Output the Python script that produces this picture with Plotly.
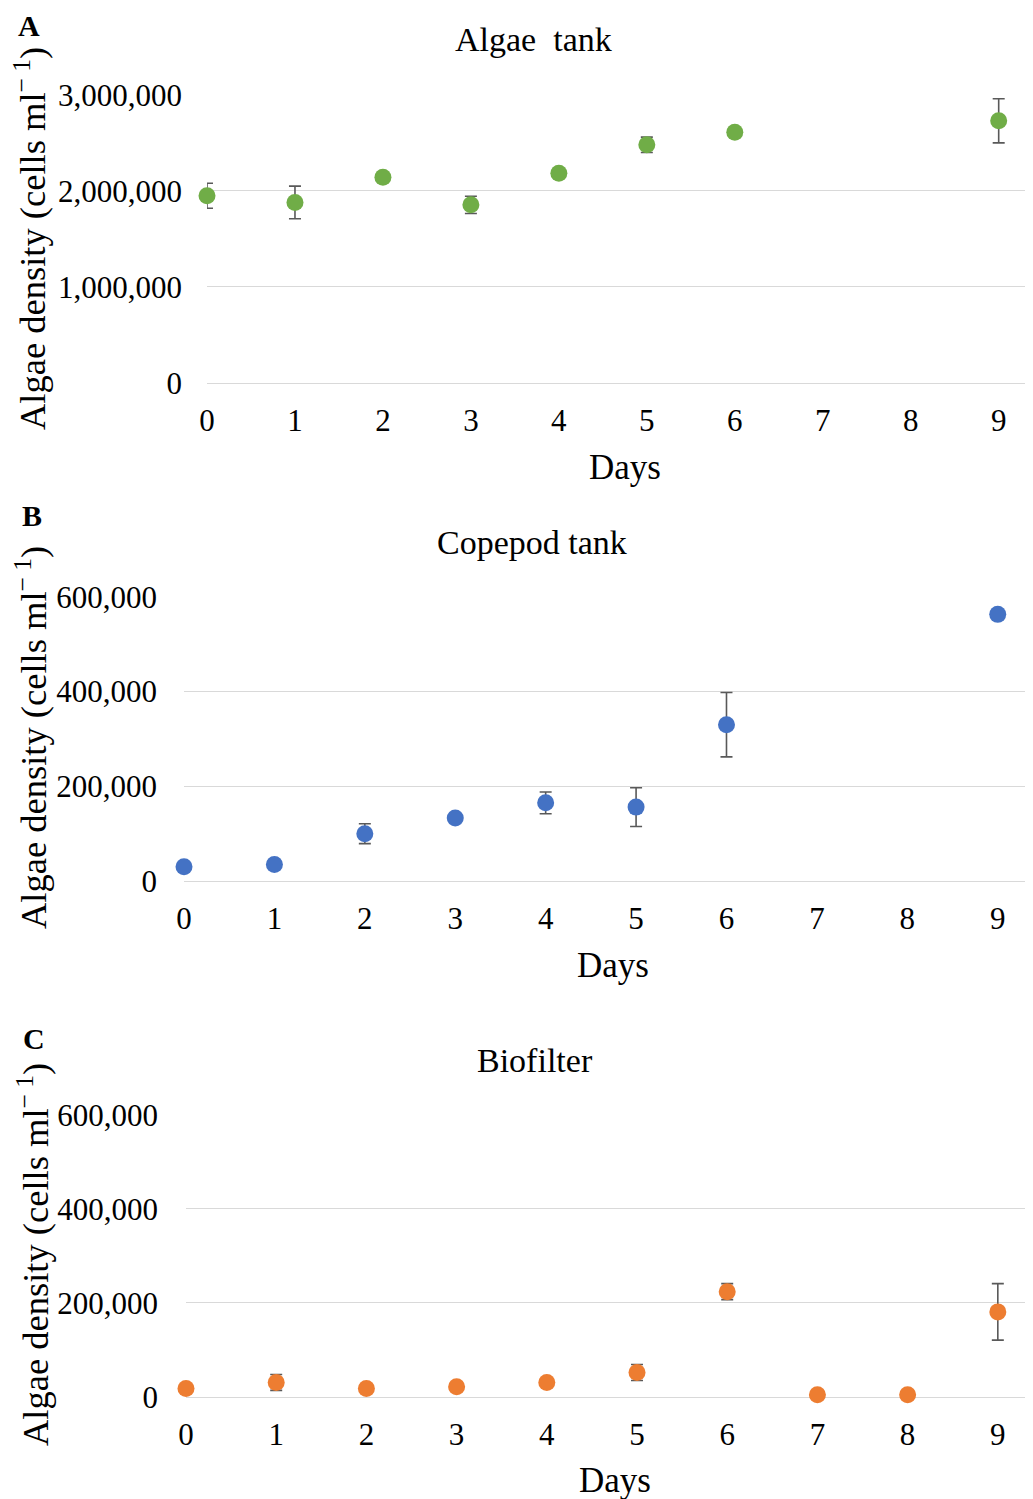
import plotly.graph_objects as go

# The page body has an 8px margin, so the figure is drawn at (8, 8) in the window.
OFF = 8
W, H = 1033 - OFF, 1499 - OFF

days = [0, 1, 2, 3, 4, 5, 6, 7, 8, 9]

# Panel A: Algae tank
a_days = [0, 1, 2, 3, 4, 5, 6, 9]
a_vals = [1950000, 1880000, 2142000, 1855000, 2183000, 2480000, 2610000, 2730000]
a_err = [130000, 170000, 20000, 90000, 20000, 80000, 30000, 230000]

# Panel B: Copepod tank
b_days = [0, 1, 2, 3, 4, 5, 6, 9]
b_vals = [30000, 35000, 100000, 133000, 165000, 156000, 330000, 563000]
b_err = [4000, 4000, 21000, 5000, 23000, 41000, 68000, 5000]

# Panel C: Biofilter
c_days = [0, 1, 2, 3, 4, 5, 6, 7, 8, 9]
c_vals = [18000, 31000, 18000, 22000, 31000, 52000, 224000, 5000, 5000, 181000]
c_err = [3000, 17000, 3000, 3000, 3000, 17000, 17000, 2000, 2000, 60000]

a_ticks = [0, 1000000, 2000000, 3000000]
a_ticklabels = ["0", "1,000,000", "2,000,000", "3,000,000"]
bc_ticks = [0, 200000, 400000, 600000]
bc_ticklabels = ["0", "200,000", "400,000", "600,000"]

FONT = "Liberation Serif, Times New Roman, serif"
GRID = "#D9D9D9"
ERRC = "#595959"


def px(x):
    return (x - OFF) / W


def py(y):
    return 1 - (y - OFF) / H


panels = [
    dict(d=a_days, v=a_vals, e=a_err, color="#70AD47", left=207, top=94, bottom=383,
         ymax=3000000, ticks=a_ticks, labels=a_ticklabels, ystand=24,
         title="Algae  tank", tx=533, ty=40, letter="A", lx=29, ly=26,
         days_x=625, days_y=467, yt_x=30, yt_y=239, yt_size=36.5),
    dict(d=b_days, v=b_vals, e=b_err, color="#4472C4", left=184, top=596, bottom=881,
         ymax=600000, ticks=bc_ticks, labels=bc_ticklabels, ystand=26,
         title="Copepod tank", tx=532, ty=542, letter="B", lx=32, ly=516,
         days_x=613, days_y=965, yt_x=31, yt_y=738, yt_size=36.5),
    dict(d=c_days, v=c_vals, e=c_err, color="#ED7D31", left=186, top=1114, bottom=1397,
         ymax=600000, ticks=bc_ticks, labels=bc_ticklabels, ystand=27,
         title="Biofilter", tx=535, ty=1060, letter="C", lx=34, ly=1038,
         days_x=615, days_y=1480, yt_x=33, yt_y=1255, yt_size=36.5),
]

fig = go.Figure()
annotations = []
layout_axes = {}

for i, p in enumerate(panels):
    n = i + 1
    xa = "x" if n == 1 else f"x{n}"
    ya = "y" if n == 1 else f"y{n}"
    fig.add_trace(go.Scatter(
        x=p["d"], y=p["v"], mode="markers", xaxis=xa, yaxis=ya,
        marker=dict(size=17, color=p["color"]),
        error_y=dict(type="data", array=p["e"], visible=True, color=ERRC,
                     thickness=1.6, width=6),
        showlegend=False, cliponaxis=False,
    ))
    xkey = "xaxis" if n == 1 else f"xaxis{n}"
    ykey = "yaxis" if n == 1 else f"yaxis{n}"
    layout_axes[xkey] = dict(
        domain=[px(p["left"]), 1.0], range=[0, 9.39], anchor=ya, automargin=False,
        tickmode="array", tickvals=days, ticktext=[str(d) for d in days],
        showgrid=False, zeroline=False, showline=False,
        ticks="", ticklabelstandoff=16,
        tickfont=dict(family=FONT, size=31, color="#000000"),
    )
    layout_axes[ykey] = dict(
        domain=[py(p["bottom"]), py(p["top"])], range=[0, p["ymax"] * 1.003], anchor=xa,
        automargin=False,
        tickmode="array", tickvals=p["ticks"], ticktext=p["labels"],
        showgrid=True, gridcolor=GRID, gridwidth=1.4,
        zeroline=True, zerolinecolor=GRID, zerolinewidth=1.4,
        showline=False, ticks="", ticklabelstandoff=p["ystand"],
        tickfont=dict(family=FONT, size=31, color="#000000"),
    )
    annotations.append(dict(text=p["title"], x=px(p["tx"]), y=py(p["ty"]), xref="paper",
                            yref="paper", showarrow=False, xanchor="center", yanchor="middle",
                            font=dict(family=FONT, size=34, color="#000000")))
    annotations.append(dict(text="<b>" + p["letter"] + "</b>", x=px(p["lx"]), y=py(p["ly"]),
                            xref="paper", yref="paper", showarrow=False, xanchor="center",
                            yanchor="middle", font=dict(family=FONT, size=30, color="#000000")))
    annotations.append(dict(text="Days", x=px(p["days_x"]), y=py(p["days_y"]), xref="paper",
                            yref="paper", showarrow=False, xanchor="center", yanchor="middle",
                            font=dict(family=FONT, size=35, color="#000000")))
    annotations.append(dict(text="Algae density (cells ml<sup>\u2212 1</sup>)", x=px(p["yt_x"]),
                            y=py(p["yt_y"]), xref="paper", yref="paper", showarrow=False,
                            xanchor="center", yanchor="middle", textangle=-90,
                            font=dict(family=FONT, size=p["yt_size"], color="#000000")))

fig.update_layout(
    width=W, height=H, margin=dict(l=0, r=0, t=0, b=0, pad=0, autoexpand=False),
    paper_bgcolor="white", plot_bgcolor="white",
    annotations=annotations, **layout_axes,
)

fig.write_html("out.html")
